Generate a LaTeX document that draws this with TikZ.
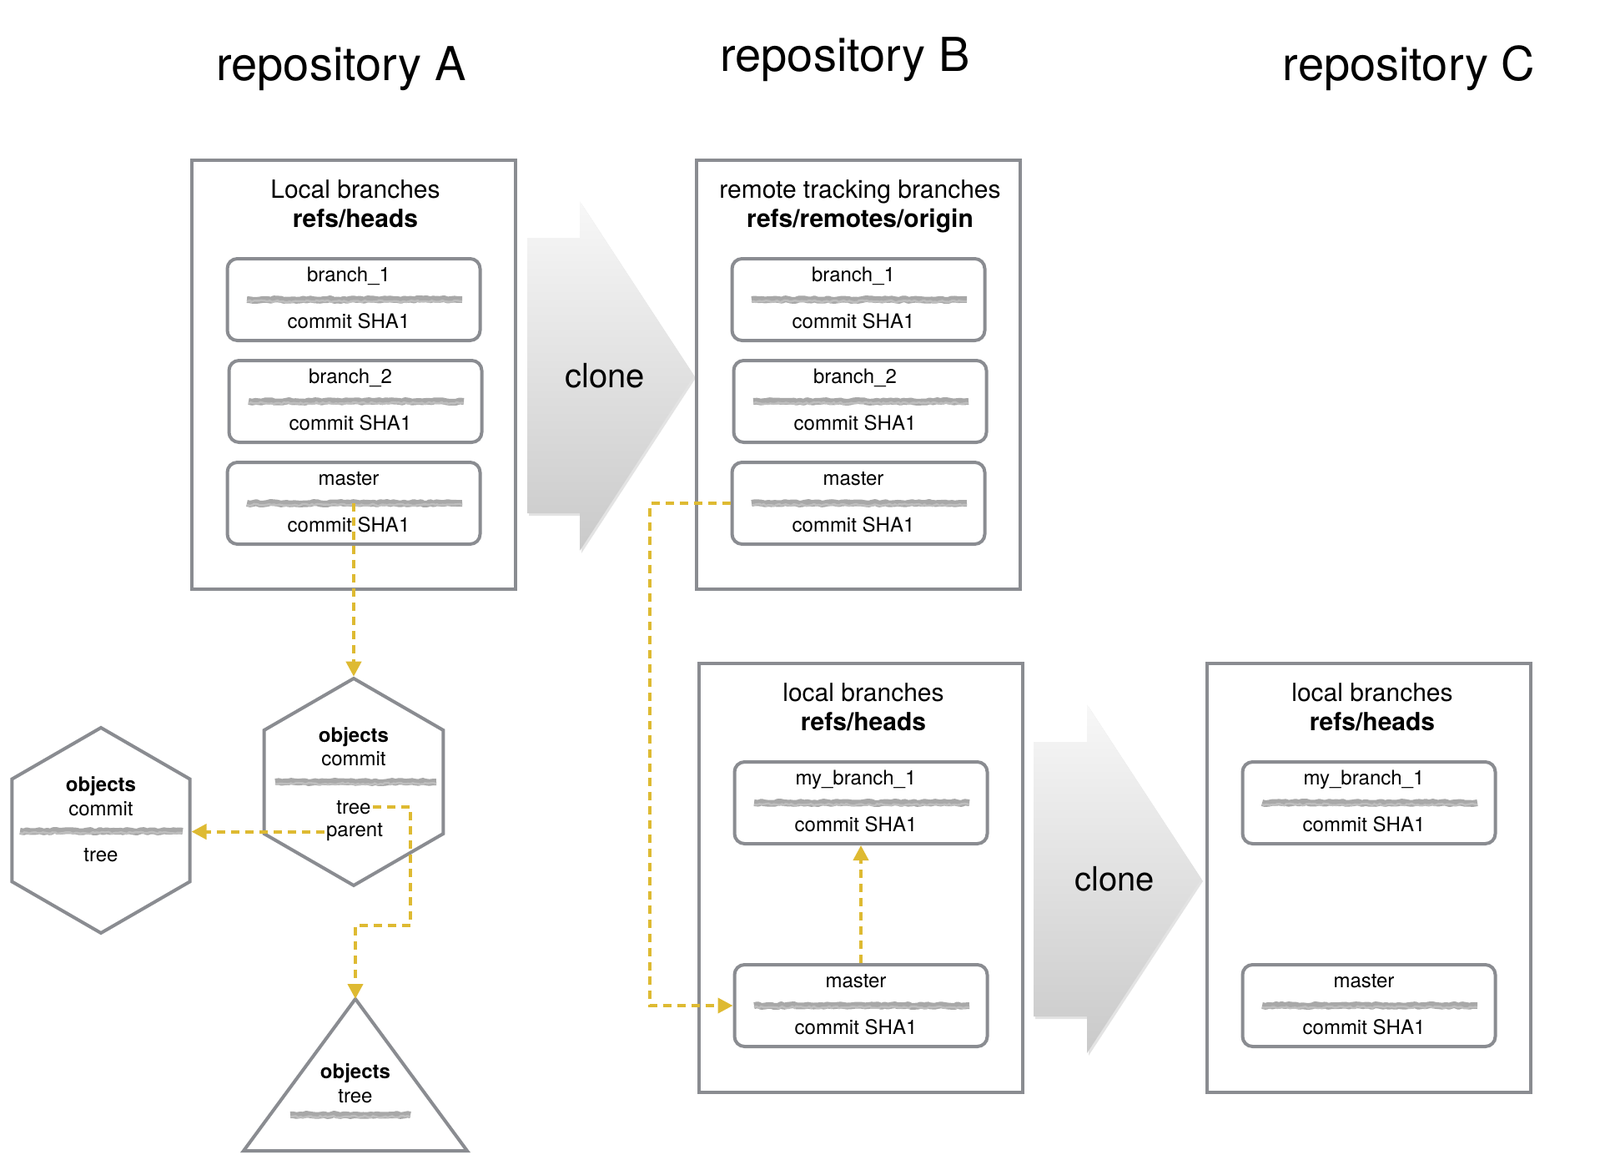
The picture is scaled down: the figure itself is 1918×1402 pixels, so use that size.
\documentclass[tikz,border=0pt]{standalone}
\usepackage{fontspec}
\setmainfont{TeX Gyre Heros}
\usetikzlibrary{shapes.geometric,arrows.meta,decorations.pathmorphing,shadows}
\definecolor{bordergray}{RGB}{138,140,145}
\definecolor{connyellow}{RGB}{222,186,50}
\definecolor{scribgray}{RGB}{168,168,168}
\definecolor{scribgrayl}{RGB}{190,190,190}
\newcommand\mkref[4]{%
  \node[refbox] (#1) at (#2,#3) {};
  \node[lbl] (#1-n) at (#2-6,#3-22) {#4};
  \draw[scrib] (#2-128,#3) -- (#2+130,#3);
  \draw[scribl] (#2-128,#3+2) -- (#2+130,#3+2);
  \node[lbl] (#1-c) at (#2-6,#3+34) {commit SHA1};
}
\begin{document}
\begin{tikzpicture}[x=0.5pt,y=-0.5pt,
  repobox/.style={draw=bordergray, line width=2pt, minimum width=194pt, minimum height=257pt, inner sep=0pt},
  refbox/.style={draw=bordergray, line width=2pt, rounded corners=6pt, minimum width=151.5pt, minimum height=49pt, inner sep=0pt, fill=white},
  lbl/.style={font=\fontsize{12}{14}\selectfont, inner sep=1pt, anchor=base},
  lblb/.style={font=\bfseries\fontsize{12}{14}\selectfont, inner sep=1pt, anchor=base},
  ttl/.style={font=\fontsize{15}{18}\selectfont, inner sep=0pt, anchor=base},
  ttlb/.style={font=\bfseries\fontsize{15}{18}\selectfont, inner sep=0pt, anchor=base},
  repottl/.style={font=\fontsize{28}{32}\selectfont, inner sep=0pt, anchor=base},
  clonetxt/.style={font=\fontsize{20}{24}\selectfont, inner sep=0pt},
  scrib/.style={draw=scribgray, line width=4pt, line join=round, line cap=butt, decorate, decoration={random steps, segment length=2pt, amplitude=0.5pt}},
  scribl/.style={draw=scribgrayl, line width=1.2pt, line join=round, decorate, decoration={random steps, segment length=1.5pt, amplitude=0.6pt}},
  conn/.style={draw=connyellow, line width=2pt, dash pattern=on 5pt off 3.5pt, -{Triangle[length=9pt,width=9pt]}},
  clonearrow/.style={top color=gray!6, bottom color=gray!42, draw=none, drop shadow={opacity=0.22, shadow xshift=1pt, shadow yshift=-1.5pt}},
  hexa/.style={regular polygon, regular polygon sides=6, shape border rotate=30, draw=bordergray, line width=2pt, inner sep=0pt, fill=white},
  shapeline/.style={draw=bordergray, line width=2pt, line join=miter}
]
\useasboundingbox (0,0) rectangle (1918,1402);

% titles
\node[repottl] (tA) at (409,97) {repository A};
\node[repottl] (tB) at (1013,86) {repository B};
\node[repottl] (tC) at (1689,97) {repository C};

% clone arrows
\path[clonearrow] (632,285) -- (695,285) -- (695,241) -- (832,450) -- (695,660) -- (695,615) -- (632,615) -- cycle;
\node[clonetxt] (cl1) at (725,450) {clone};
\path[clonearrow] (1239,889) -- (1303,889) -- (1303,844) -- (1440,1053) -- (1303,1262) -- (1303,1218) -- (1239,1218) -- cycle;
\node[clonetxt] (cl2) at (1336,1053) {clone};

% repository A
\node[repobox] (A) at (424,449) {};
\node[ttl] (A-t1) at (426,237) {Local branches};
\node[ttlb] (A-t2) at (426,272) {refs/heads};
\mkref{Ab1}{424}{359}{branch\_1}
\mkref{Ab2}{426}{481}{branch\_2}
\mkref{Am}{424}{603}{master}

% repository B remote
\node[repobox] (B) at (1029,449) {};
\node[ttl] (B-t1) at (1031,237) {remote tracking branches};
\node[ttlb] (B-t2) at (1031,272) {refs/remotes/origin};
\mkref{Bb1}{1029}{359}{branch\_1}
\mkref{Bb2}{1031}{481}{branch\_2}
\mkref{Bm}{1029}{603}{master}

% repository B local
\node[repobox] (BL) at (1032,1052) {};
\node[ttl] (BL-t1) at (1035,840) {local branches};
\node[ttlb] (BL-t2) at (1035,875) {refs/heads};
\mkref{Blb}{1032}{962}{my\_branch\_1}
\mkref{Blm}{1032}{1205}{master}

% repository C
\node[repobox] (C) at (1641,1052) {};
\node[ttl] (C-t1) at (1645,840) {local branches};
\node[ttlb] (C-t2) at (1645,875) {refs/heads};
\mkref{Cb}{1641}{962}{my\_branch\_1}
\mkref{Cm}{1641}{1205}{master}

% objects: commit (right)
\node[hexa, minimum size=124pt] (hR) at (424,937) {};
\node[lblb] (hR-o) at (424,889) {objects};
\node[lbl] (hR-c) at (424,917) {commit};
\draw[scrib] (330,937) -- (523,937);
\draw[scribl] (330,939) -- (523,939);
\node[lbl] (hR-t) at (424,975) {tree};
\node[lbl] (hR-p) at (425,1002) {parent};

% objects: commit (left)
\node[hexa, minimum size=123pt] (hL) at (121,995) {};
\node[lblb] (hL-o) at (121,948) {objects};
\node[lbl] (hL-c) at (121,977) {commit};
\draw[scrib] (24,996) -- (219,996);
\draw[scribl] (24,998) -- (219,998);
\node[lbl] (hL-t) at (121,1032) {tree};

% objects: tree (triangle)
\draw[shapeline] (292,1379) -- (426,1197) -- (560,1379) -- cycle;
\coordinate (triTop) at (426,1197);
\node[lblb] (tr-o) at (426,1292) {objects};
\node[lbl] (tr-t) at (426,1321) {tree};
\draw[scrib] (348,1336) -- (492,1336);
\draw[scribl] (348,1338) -- (492,1338);

% connectors
\draw[conn] (Am.center) -- (hR.north);
\draw[conn] (hR-p.west) -- (hR-p.west -| hL.east);
\coordinate (bendT) at (492,1109);
\draw[conn] (hR-t.east) -| (bendT) -| (triTop);
\coordinate (bendB) at (779,0);
\draw[conn] (Bm.west) -- (Bm.west -| bendB) |- (Blm.west);
\draw[conn] (Blm.north) -- (Blb.south);
\end{tikzpicture}
\end{document}
